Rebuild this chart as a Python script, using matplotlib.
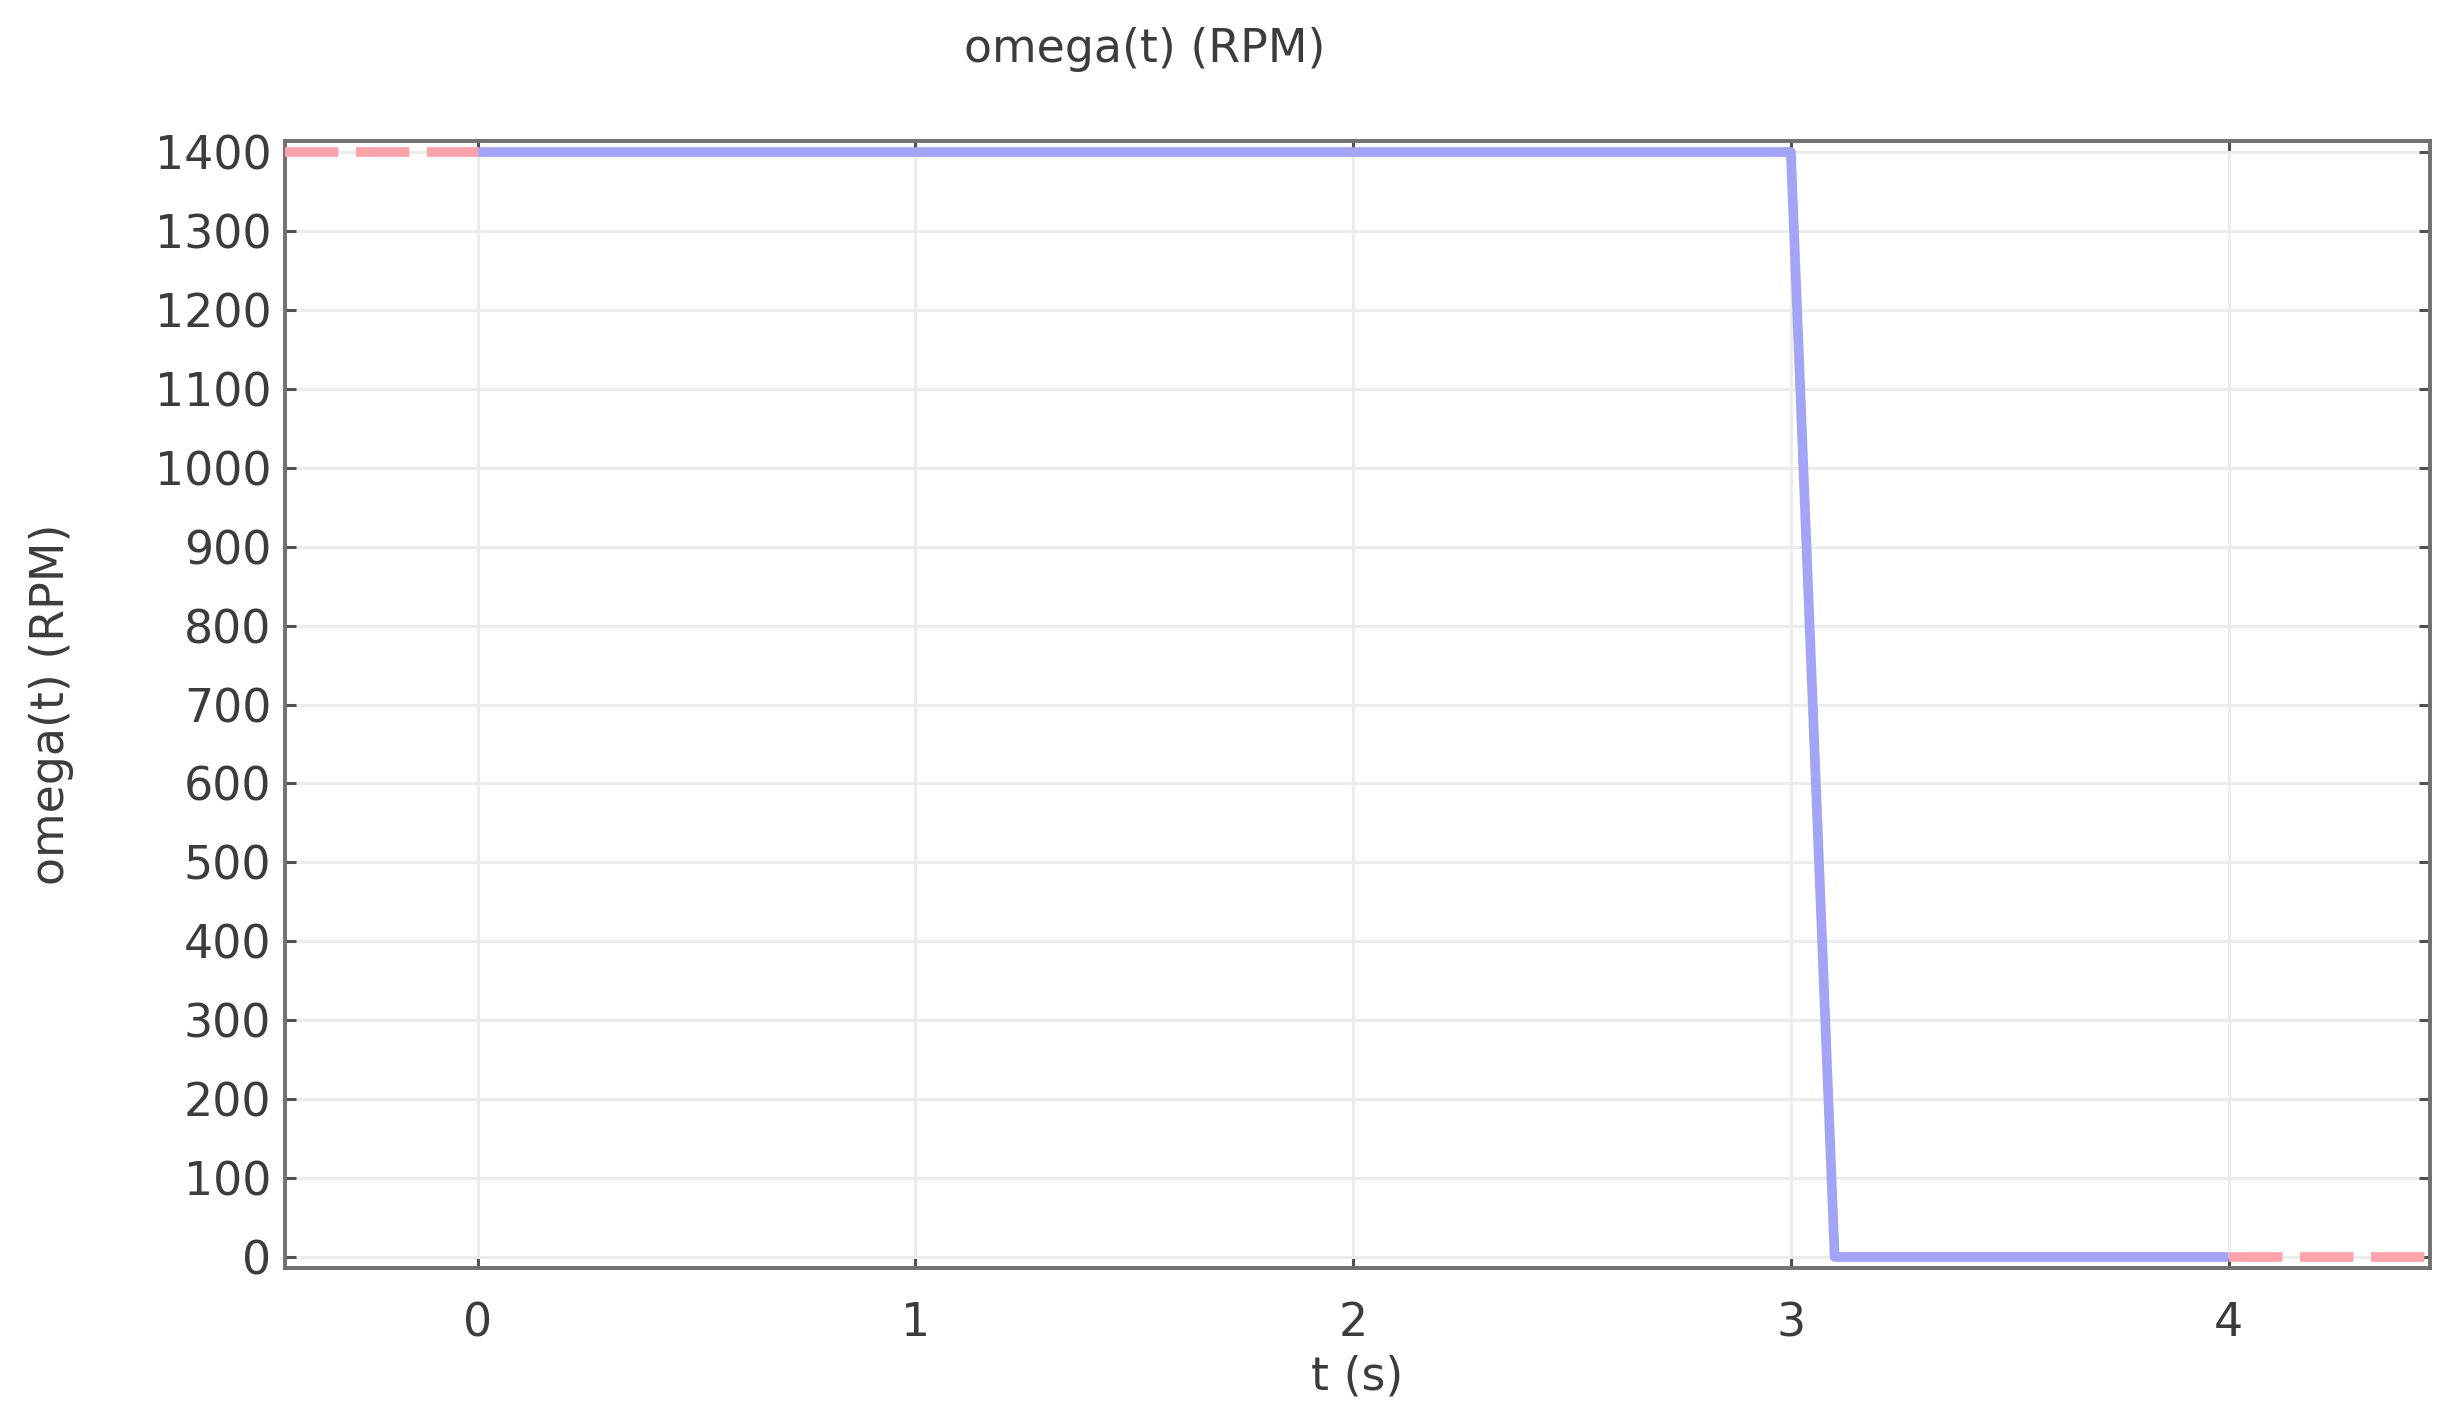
"""Recreate the omega(t) step-down plot: constant speed, then a ramp to rest."""

import matplotlib

matplotlib.use("Agg")
import matplotlib.pyplot as plt

# Simulated speed trace (t in s, omega in RPM).
T = [0.0, 3.0, 3.1, 4.0]
OMEGA = [1400, 1400, 0, 0]

# Held values outside the simulated interval, drawn dashed.
T_BEFORE = [-0.44, 0.0]
OMEGA_BEFORE = [1400, 1400]
T_AFTER = [4.0, 4.46]
OMEGA_AFTER = [0, 0]

X_TICKS = [0, 1, 2, 3, 4]
Y_TICKS = list(range(0, 1500, 100))

TEXT = "#3c3c3c"
SPINE = "#707070"


def main() -> None:
    plt.rcParams["font.family"] = "DejaVu Sans"
    fig = plt.figure(figsize=(24.55, 14.27), dpi=100)
    ax = fig.add_axes([0.1161, 0.1114, 0.8737, 0.7898])

    ax.plot(T, OMEGA, color="#a4a4f6", lw=7, solid_capstyle="butt", zorder=3)
    for tx, oy in ((T_BEFORE, OMEGA_BEFORE), (T_AFTER, OMEGA_AFTER)):
        ax.plot(tx, oy, color="#ffa3aa", lw=7, dashes=(5.5, 1.8),
                dash_capstyle="butt", zorder=3)

    ax.set_xlim(-0.44, 4.46)
    ax.set_ylim(-14, 1414)
    ax.set_xticks(X_TICKS)
    ax.set_yticks(Y_TICKS)
    ax.grid(True, color="#ececec", lw=2.2, zorder=0)

    for side in ax.spines.values():
        side.set_color(SPINE)
        side.set_linewidth(2.8)
    ax.tick_params(direction="in", top=True, right=True, length=8, width=2.2,
                   color="#505050", labelsize=33, labelcolor=TEXT)
    ax.tick_params(axis="y", pad=10)
    ax.tick_params(axis="x", pad=24)

    ax.set_xlabel("t (s)", fontsize=33, color=TEXT, labelpad=6)
    ax.set_ylabel("omega(t) (RPM)", fontsize=33, color=TEXT, labelpad=58)
    fig.text(0.4664, 0.965, "omega(t) (RPM)", fontsize=33, color=TEXT,
             ha="center", va="center")

    fig.savefig("out.png", dpi=100)


if __name__ == "__main__":
    main()
